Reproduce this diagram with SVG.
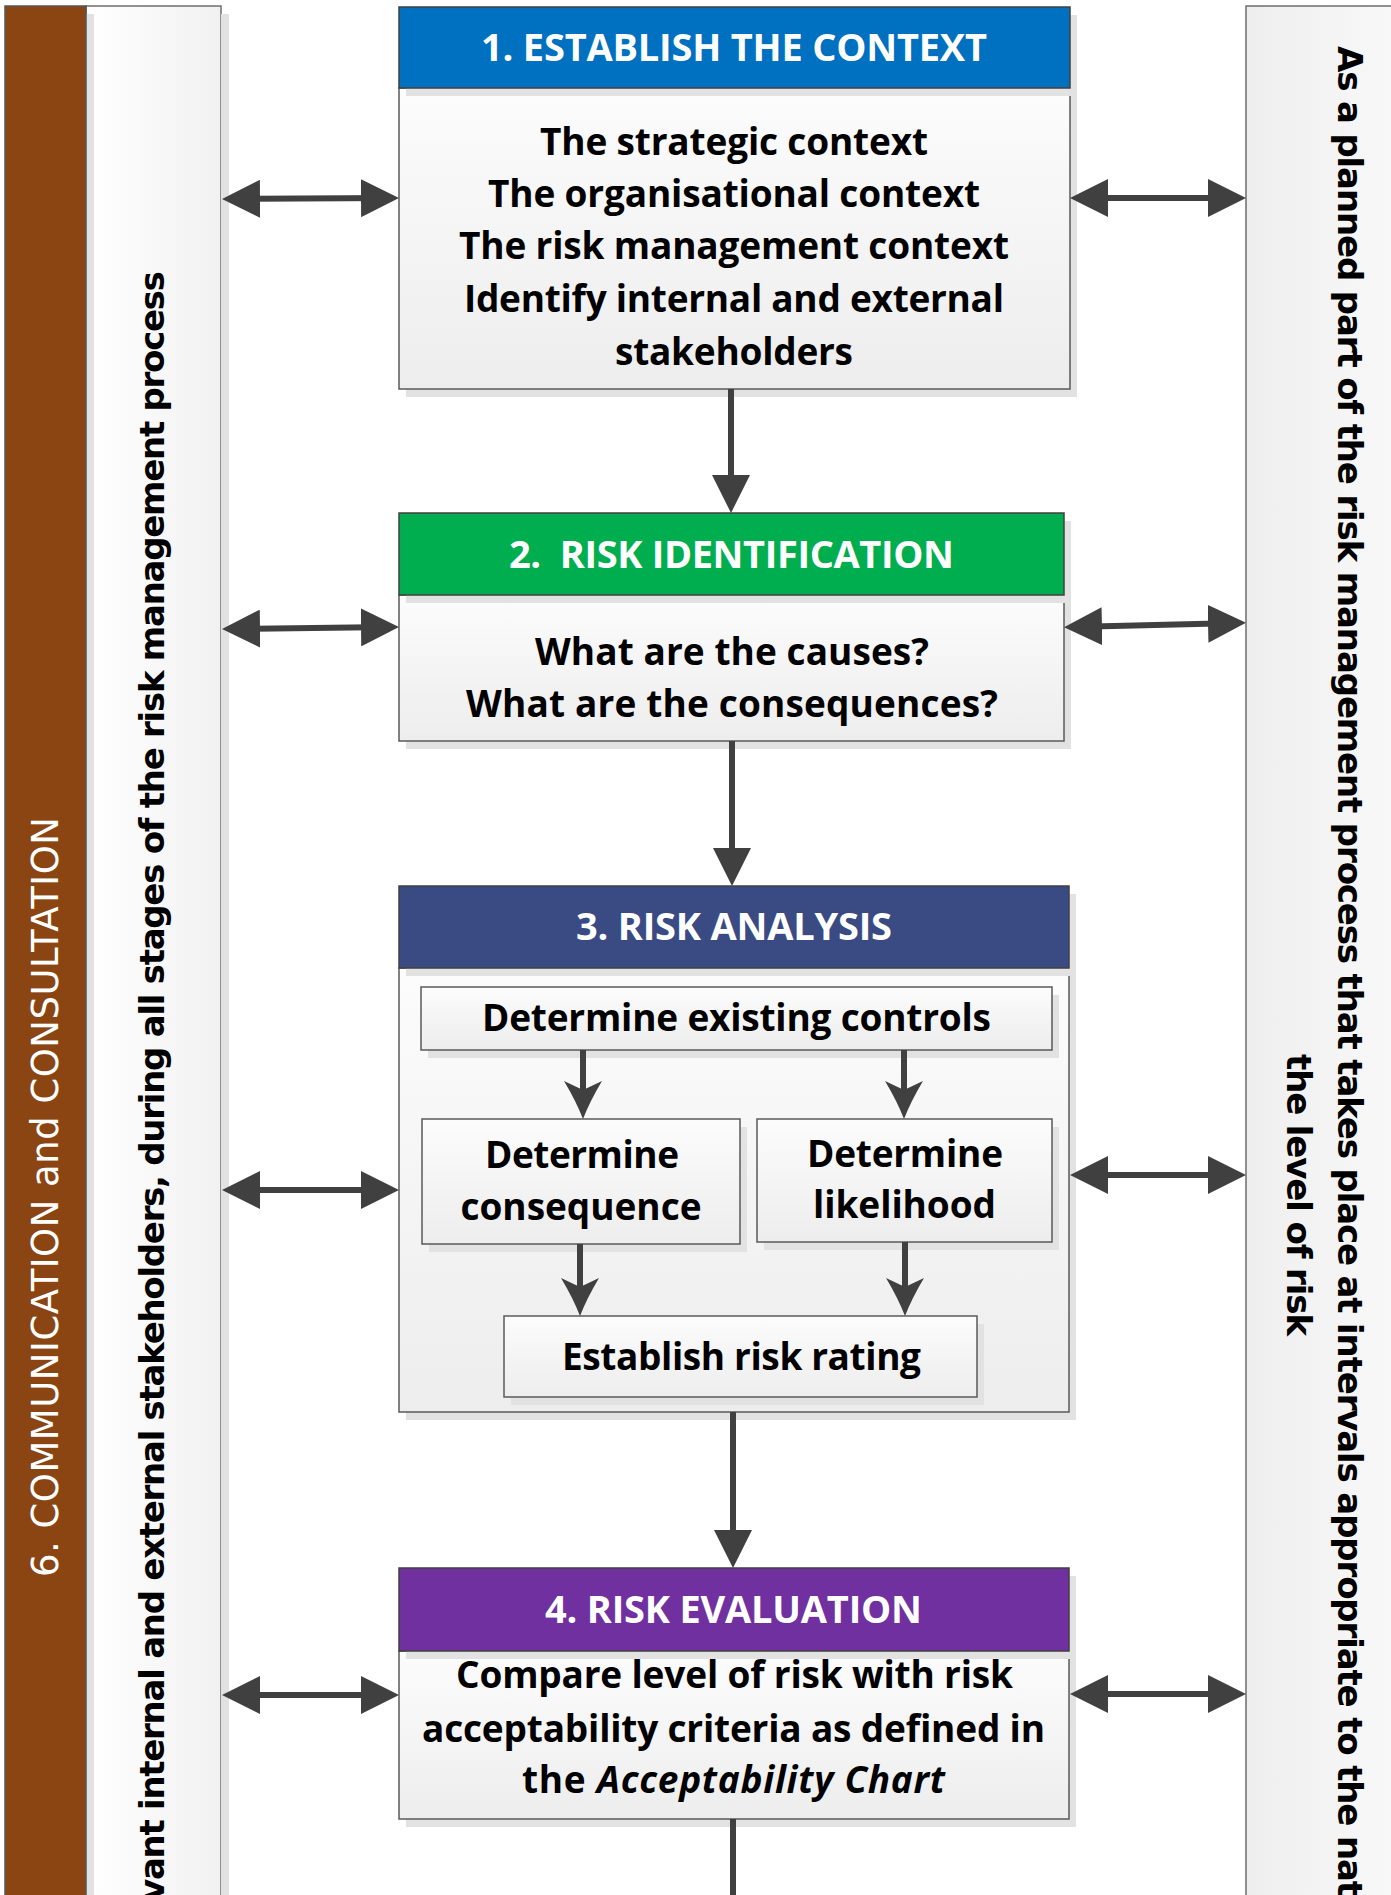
<svg xmlns="http://www.w3.org/2000/svg" width="1391" height="1895" viewBox="0 0 1391 1895">
<defs>
  <linearGradient id="gBody" x1="0" y1="0" x2="0" y2="1">
    <stop offset="0" stop-color="#FCFCFC"/>
    <stop offset="1" stop-color="#EDEDED"/>
  </linearGradient>
  <linearGradient id="gLeft" x1="0" y1="0" x2="1" y2="0">
    <stop offset="0" stop-color="#FFFFFF"/>
    <stop offset="1" stop-color="#F1F1F1"/>
  </linearGradient>
  <linearGradient id="gRight" x1="0" y1="0" x2="1" y2="0">
    <stop offset="0" stop-color="#EEEEEE"/>
    <stop offset="1" stop-color="#F9F9F9"/>
  </linearGradient>
  <marker id="head" viewBox="0 0 38 38" refX="30" refY="19" markerWidth="38" markerHeight="38" markerUnits="userSpaceOnUse" orient="auto-start-reverse">
    <path d="M0,0 L38,19 L0,38 Z" fill="#404040"/>
  </marker>
  <marker id="stealth" viewBox="0 0 38 38" refX="30" refY="19" markerWidth="38" markerHeight="38" markerUnits="userSpaceOnUse" orient="auto">
    <path d="M0,0 Q20,12 38,19 Q20,26 0,38 L9,19 Z" fill="#404040"/>
  </marker>
</defs>
<style>
  .shadow { fill: #E2E2E2; }
  .body { fill: url(#gBody); stroke: #595959; stroke-width: 1.5; }
  .hdr { stroke: #404040; stroke-width: 1.5; }
  .ttl { font-family: "Open Sans", "Liberation Sans", sans-serif; font-weight: 700; font-size: 38px; fill: #FFFFFF; text-anchor: middle; }
  .txt { font-family: "Open Sans", "Liberation Sans", sans-serif; font-weight: 700; font-size: 37px; fill: #000000; text-anchor: middle; }
  .side { font-family: "DejaVu Sans", Verdana, sans-serif; font-weight: 700; font-size: 34px; fill: #000000; }
  .brown { font-family: "DejaVu Sans", Verdana, sans-serif; font-size: 37px; fill: #FFFFFF; }
  .conn { stroke: #404040; stroke-width: 6; fill: none; }
</style>

<g id="left-panel">
  <rect x="86" y="6" width="135" height="1895" fill="url(#gLeft)" stroke="#6E6E6E" stroke-width="1.5"/>
  <rect x="221" y="14" width="8" height="1890" class="shadow"/>
  <text class="side" text-anchor="end" textLength="1630" transform="translate(164,271) rotate(-90)">vant internal and external stakeholders, during all stages of the risk management process</text>
</g>

<g id="communication-bar">
  <rect x="13" y="14" width="81" height="1890" class="shadow"/>
  <rect x="5" y="6" width="81" height="1895" fill="#8B4513" stroke="#555555" stroke-width="1.5"/>
  <text class="brown" textLength="760" transform="translate(58,1577) rotate(-90)">6. COMMUNICATION and CONSULTATION</text>
</g>

<g id="right-panel">
  <rect x="1246" y="6" width="160" height="1895" fill="url(#gRight)" stroke="#6E6E6E" stroke-width="1.5"/>
  <text class="side" textLength="1851" transform="translate(1338,46) rotate(90)">As a planned part of the risk management process that takes place at intervals appropriate to the nat</text>
  <text class="side" textLength="282" transform="translate(1287,1054) rotate(90)">the level of risk</text>
</g>

<g id="box1">
  <rect x="406" y="15" width="671" height="382" class="shadow"/>
  <rect x="399" y="88" width="671" height="301" class="body"/>
  <rect x="406" y="15" width="671" height="81" class="shadow"/>
  <rect x="399" y="7" width="671" height="81" class="hdr" fill="#0070C0"/>
  <text class="ttl" x="734" y="61" textLength="506">1. ESTABLISH THE CONTEXT</text>
  <text class="txt" x="734" y="155" textLength="388">The strategic context</text>
  <text class="txt" x="734" y="207" textLength="492">The organisational context</text>
  <text class="txt" x="734" y="259" textLength="550">The risk management context</text>
  <text class="txt" x="734" y="312" textLength="540">Identify internal and external</text>
  <text class="txt" x="734" y="365" textLength="238">stakeholders</text>
</g>

<g id="box2">
  <rect x="406" y="521" width="665" height="228" class="shadow"/>
  <rect x="399" y="595" width="665" height="146" class="body"/>
  <rect x="406" y="521" width="665" height="82" class="shadow"/>
  <rect x="399" y="513" width="665" height="82" class="hdr" fill="#00AE4F"/>
  <text class="ttl" x="731.5" y="568" textLength="445">2.&#160; RISK IDENTIFICATION</text>
  <text class="txt" x="732" y="665" textLength="394">What are the causes?</text>
  <text class="txt" x="732" y="717" textLength="532">What are the consequences?</text>
</g>

<g id="box3">
  <rect x="406" y="894" width="670" height="526" class="shadow"/>
  <rect x="399" y="968" width="670" height="444" class="body"/>
  <rect x="406" y="894" width="670" height="82" class="shadow"/>
  <rect x="399" y="886" width="670" height="82" class="hdr" fill="#3A4B84"/>
  <text class="ttl" x="734" y="940" textLength="316">3. RISK ANALYSIS</text>
</g>

<g id="existing-controls">
  <rect x="428" y="995" width="631" height="63" class="shadow"/>
  <rect x="421" y="987" width="631" height="63" class="body"/>
  <text class="txt" x="736.5" y="1031" textLength="509">Determine existing controls</text>
</g>

<g id="consequence">
  <rect x="429" y="1127" width="318" height="125" class="shadow"/>
  <rect x="422" y="1119" width="318" height="125" class="body"/>
  <text class="txt" x="582" y="1168" textLength="194">Determine</text>
  <text class="txt" x="581" y="1220" textLength="241">consequence</text>
</g>

<g id="likelihood">
  <rect x="764" y="1127" width="295" height="123" class="shadow"/>
  <rect x="757" y="1119" width="295" height="123" class="body"/>
  <text class="txt" x="905" y="1167" textLength="196">Determine</text>
  <text class="txt" x="904.5" y="1218" textLength="183">likelihood</text>
</g>

<g id="risk-rating">
  <rect x="511" y="1324" width="473" height="81" class="shadow"/>
  <rect x="504" y="1316" width="473" height="81" class="body"/>
  <text class="txt" x="741.5" y="1370" textLength="359">Establish risk rating</text>
</g>

<g id="box4">
  <rect x="406" y="1576" width="670" height="251" class="shadow"/>
  <rect x="399" y="1651" width="670" height="168" class="body"/>
  <rect x="406" y="1576" width="670" height="83" class="shadow"/>
  <rect x="399" y="1568" width="670" height="83" class="hdr" fill="#7030A0"/>
  <text class="ttl" x="733.5" y="1623" textLength="377">4. RISK EVALUATION</text>
  <text class="txt" x="734.5" y="1688" textLength="557">Compare level of risk with risk</text>
  <text class="txt" x="733.5" y="1742" textLength="623">acceptability criteria as defined in</text>
  <text class="txt" x="733.5" y="1793" textLength="423">the <tspan font-style="italic">Acceptability Chart</tspan></text>
</g>

<g id="connectors">
  <line class="conn" x1="731" y1="389" x2="731" y2="505" marker-end="url(#head)"/>
  <line class="conn" x1="732" y1="741" x2="732" y2="878" marker-end="url(#head)"/>
  <line class="conn" x1="733" y1="1412" x2="733" y2="1560" marker-end="url(#head)"/>
  <line class="conn" x1="733" y1="1819" x2="733" y2="1900"/>

  <line class="conn" x1="583" y1="1050" x2="583" y2="1111" marker-end="url(#stealth)"/>
  <line class="conn" x1="904" y1="1050" x2="904" y2="1111" marker-end="url(#stealth)"/>
  <line class="conn" x1="580" y1="1244" x2="580" y2="1308" marker-end="url(#stealth)"/>
  <line class="conn" x1="905" y1="1242" x2="905" y2="1308" marker-end="url(#stealth)"/>

  <line class="conn" x1="230" y1="199" x2="391" y2="198" marker-start="url(#head)" marker-end="url(#head)"/>
  <line class="conn" x1="230" y1="629" x2="391" y2="627" marker-start="url(#head)" marker-end="url(#head)"/>
  <line class="conn" x1="230" y1="1190" x2="391" y2="1190" marker-start="url(#head)" marker-end="url(#head)"/>
  <line class="conn" x1="230" y1="1695" x2="391" y2="1695" marker-start="url(#head)" marker-end="url(#head)"/>

  <line class="conn" x1="1078" y1="198" x2="1238" y2="198" marker-start="url(#head)" marker-end="url(#head)"/>
  <line class="conn" x1="1072" y1="627" x2="1238" y2="623" marker-start="url(#head)" marker-end="url(#head)"/>
  <line class="conn" x1="1078" y1="1175" x2="1238" y2="1175" marker-start="url(#head)" marker-end="url(#head)"/>
  <line class="conn" x1="1078" y1="1694" x2="1238" y2="1694" marker-start="url(#head)" marker-end="url(#head)"/>
</g>
</svg>
